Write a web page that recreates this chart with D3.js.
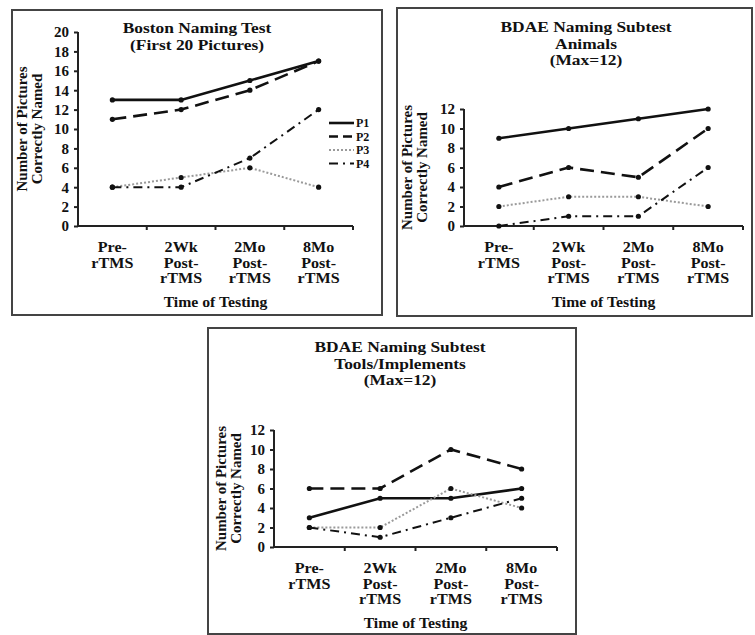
<!DOCTYPE html>
<html>
<head>
<meta charset="utf-8">
<script src="https://cdn.jsdelivr.net/npm/d3@7"></script>
<style>
  body { margin: 0; background: #fff; }
  svg text { font-family: "Liberation Serif", "Tinos", "DejaVu Serif", serif; font-weight: bold; fill: #111; }
</style>
</head>
<body>
<svg id="chart" width="755" height="635"></svg>
<script>
// categories (time of testing)
const categories = [["Pre-", "rTMS"], ["2Wk", "Post-", "rTMS"], ["2Mo", "Post-", "rTMS"], ["8Mo", "Post-", "rTMS"]];
const seriesNames = ["P1", "P2", "P3", "P4"];

// Boston Naming Test (first 20 pictures)
const bostonP1 = [13, 13, 15, 17];
const bostonP2 = [11, 12, 14, 17];
const bostonP3 = [4, 5, 6, 4];
const bostonP4 = [4, 4, 7, 12];
const bostonTicks = [0, 2, 4, 6, 8, 10, 12, 14, 16, 18, 20];

// BDAE animals (max 12)
const animalsP1 = [9, 10, 11, 12];
const animalsP2 = [4, 6, 5, 10];
const animalsP3 = [2, 3, 3, 2];
const animalsP4 = [0, 1, 1, 6];

// BDAE tools/implements (max 12)
const toolsP1 = [3, 5, 5, 6];
const toolsP2 = [6, 6, 10, 8];
const toolsP3 = [2, 2, 6, 4];
const toolsP4 = [2, 1, 3, 5];
const bdaeTicks = [0, 2, 4, 6, 8, 10, 12];

const lineStyles = {
  P1: { stroke: "#111", width: 2.6, dash: null },
  P2: { stroke: "#111", width: 2.6, dash: "14,7" },
  P3: { stroke: "#9a9a9a", width: 2, dash: "2,2" },
  P4: { stroke: "#111", width: 2, dash: "9,5,2,5" }
};

const svg = d3.select("#chart");

// centered lines of text, a bit wider than tall like the scanned figure
function multiline(g, lines, cx, y0, step, size, sx = 1.15) {
  lines.forEach((t, i) => {
    g.append("text")
      .attr("text-anchor", "middle")
      .attr("font-size", size)
      .attr("transform", `translate(${cx},${y0 + i * step}) scale(${sx},1)`)
      .text(t);
  });
}

function drawPanel(p) {
  const g = svg.append("g");

  g.append("rect")
    .attr("x", p.box[0]).attr("y", p.box[1])
    .attr("width", p.box[2] - p.box[0]).attr("height", p.box[3] - p.box[1])
    .attr("fill", "none").attr("stroke", "#444").attr("stroke-width", 2);

  let x = d3.scaleBand()
    .domain(d3.range(categories.length))
    .range([p.left, p.right]);
  let y = d3.scaleLinear()
    .domain([0, d3.max(p.ticks)])
    .range([p.bottom, p.top]);

  // title
  multiline(g, p.title, p.titleX, p.titleY, 16.5, 14.5, 1.2);

  // y axis
  const yAxis = g.append("g")
    .attr("transform", `translate(${p.left},0)`)
    .call(d3.axisLeft(y).tickValues(p.ticks).tickSize(4).tickPadding(5));
  yAxis.selectAll("path, line").attr("stroke", "#222").attr("stroke-width", 2);
  yAxis.select(".domain").attr("d", `M0,${p.top}V${p.bottom}`);
  yAxis.selectAll("text")
    .attr("font-size", 15).attr("font-family", null)
    .attr("fill", "#111");

  // x axis (ticks on the band borders)
  const bounds = d3.range(categories.length + 1).map((i) => p.left + i * x.bandwidth());
  g.append("line")
    .attr("x1", p.left).attr("x2", p.right)
    .attr("y1", p.bottom).attr("y2", p.bottom)
    .attr("stroke", "#222").attr("stroke-width", 2);
  g.selectAll(".xtick")
    .data(bounds.slice(1))
    .enter().append("line")
    .attr("x1", (d) => d).attr("x2", (d) => d)
    .attr("y1", p.bottom).attr("y2", p.bottom + 4)
    .attr("stroke", "#222").attr("stroke-width", 2);

  categories.forEach((lab, i) => {
    multiline(g, lab, x(i) + x.bandwidth() / 2, p.bottom + 26, 15.5, 14);
  });

  multiline(g, ["Time of Testing"], (p.left + p.right) / 2, p.bottom + 81, 0, 15, 1.05);

  // y axis title, two rotated lines
  const cy = (p.top + p.bottom) / 2;
  ["Number of Pictures", "Correctly Named"].forEach((t, i) => {
    g.append("text")
      .attr("text-anchor", "middle")
      .attr("font-size", 14)
      .attr("transform", `translate(${p.yTitleX + i * 15 + 9},${cy}) rotate(-90) scale(1.07,1)`)
      .text(t);
  });

  // series
  const line = d3.line()
    .x((d, i) => x(i) + x.bandwidth() / 2)
    .y((d) => y(d));
  seriesNames.forEach((name, k) => {
    const vals = p.series[k];
    const st = lineStyles[name];
    g.append("path")
      .datum(vals)
      .attr("d", line)
      .attr("fill", "none")
      .attr("stroke", st.stroke)
      .attr("stroke-width", st.width)
      .attr("stroke-dasharray", st.dash);
    g.selectAll(".dot" + k)
      .data(vals)
      .enter().append("circle")
      .attr("cx", (d, i) => x(i) + x.bandwidth() / 2)
      .attr("cy", (d) => y(d))
      .attr("r", 2.6)
      .attr("fill", "#111");
  });

  // legend
  if (p.legend) {
    seriesNames.forEach((name, k) => {
      const st = lineStyles[name];
      const ly = p.legend[1] + k * 13.5;
      g.append("line")
        .attr("x1", p.legend[0]).attr("x2", p.legend[0] + 25)
        .attr("y1", ly).attr("y2", ly)
        .attr("stroke", st.stroke)
        .attr("stroke-width", st.width)
        .attr("stroke-dasharray", name === "P2" ? "9,5" : st.dash);
      g.append("text")
        .attr("x", p.legend[0] + 27)
        .attr("y", ly + 4)
        .attr("font-size", 12)
        .text(name);
    });
  }
}

drawPanel({
  box: [12, 10, 382, 315],
  left: 78, right: 353, top: 32, bottom: 226,
  ticks: bostonTicks,
  title: ["Boston Naming Test", "(First 20 Pictures)"],
  titleX: 197, titleY: 33,
  yTitleX: 18,
  series: [bostonP1, bostonP2, bostonP3, bostonP4],
  legend: [329, 123]
});

drawPanel({
  box: [397, 8, 752, 316],
  left: 464, right: 743, top: 109, bottom: 226,
  ticks: bdaeTicks,
  title: ["BDAE Naming Subtest", "Animals", "(Max=12)"],
  titleX: 586, titleY: 32,
  yTitleX: 403,
  series: [animalsP1, animalsP2, animalsP3, animalsP4]
});

drawPanel({
  box: [208, 328, 576, 634],
  left: 274, right: 557, top: 430, bottom: 547,
  ticks: bdaeTicks,
  title: ["BDAE Naming Subtest", "Tools/Implements", "(Max=12)"],
  titleX: 400, titleY: 352,
  yTitleX: 217,
  series: [toolsP1, toolsP2, toolsP3, toolsP4]
});
</script>
</body>
</html>
